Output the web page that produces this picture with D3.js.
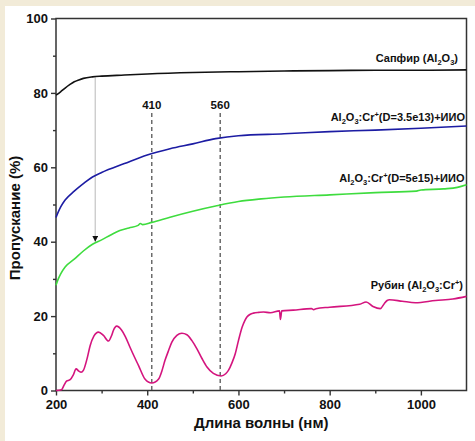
<!DOCTYPE html>
<html>
<head>
<meta charset="utf-8">
<script src="https://cdn.jsdelivr.net/npm/d3@7"></script>
<style>
  html, body { margin: 0; padding: 0; background: #f2ebd8; }
  svg { display: block; }
  text { font-family: "Liberation Sans", Arial, sans-serif; font-weight: bold; fill: #111; }
</style>
</head>
<body>
<div id="chart"></div>
<script>
// длина волны (нм) / пропускание (%)
const sapphire = [
  [200, 79.4], [210, 80.3], [220, 81.3], [230, 82.2], [240, 83.0], [250, 83.5],
  [260, 83.9], [280, 84.3], [300, 84.5], [350, 84.8], [400, 85.1], [500, 85.5],
  [600, 85.7], [700, 85.9], [800, 86.0], [900, 86.1], [1000, 86.1], [1100, 86.2]
];
const blue = [
  [200, 46.5], [205, 48.0], [210, 49.3], [220, 51.2], [240, 53.6], [260, 55.6],
  [280, 57.4], [300, 58.6], [350, 61.0], [400, 63.3], [450, 65.0], [500, 66.3],
  [550, 67.7], [600, 68.5], [700, 69.0], [800, 69.6], [900, 70.0], [1000, 70.5],
  [1100, 71.1]
];
const green = [
  [200, 28.3], [205, 30.0], [210, 31.3], [220, 33.2], [240, 35.3], [260, 37.5],
  [280, 39.3], [300, 40.5], [320, 41.8], [340, 43.0], [360, 43.7], [380, 44.4],
  [385, 44.9], [390, 44.6], [410, 45.2], [450, 46.6], [500, 48.2], [550, 49.6],
  [600, 50.8], [650, 51.5], [700, 52.0], [800, 52.6], [900, 53.2], [990, 53.6],
  [1000, 53.9], [1050, 54.2], [1080, 54.6], [1100, 55.3]
];
const ruby = [
  [200, 0], [212, 0.2], [218, 1.5], [223, 2.5], [231, 2.9], [238, 4.2], [244, 5.8],
  [250, 5.2], [255, 4.9], [260, 5.4], [268, 8.5], [275, 12.1], [283, 14.6],
  [293, 15.7], [304, 14.8], [315, 13.3], [322, 14.8], [326, 16.2], [333, 17.3],
  [344, 16.2], [352, 14.5], [362, 11.7], [372, 9.0], [381, 6.7], [395, 3.1],
  [410, 2.0], [425, 3.1], [432, 5.2], [439, 8.1], [447, 10.8], [454, 13.0],
  [465, 14.8], [476, 15.4], [487, 15.0], [498, 13.4], [509, 11.2], [520, 8.6],
  [531, 6.3], [545, 4.6], [562, 3.9], [572, 4.5], [578, 5.4], [586, 7.5],
  [593, 9.9], [600, 13.4], [608, 17.0], [614, 18.8], [619, 19.8], [626, 20.5],
  [633, 20.8], [645, 21.0], [655, 21.1], [670, 20.9], [690, 21.4], [692, 19.1],
  [695, 21.4], [720, 21.6], [760, 22.0], [765, 21.7], [770, 22.0], [800, 22.4],
  [866, 23.2], [880, 23.8], [895, 22.6], [911, 22.0], [920, 23.4], [926, 24.2],
  [931, 24.4], [959, 24.0], [988, 23.6], [1032, 24.2], [1070, 24.6], [1100, 25.3]
];
const markers = [410, 560];
const arrowNm = 286;
const xTicks = [200, 400, 600, 800, 1000];
const yTicks = [0, 20, 40, 60, 80, 100];

const labels = [
  { series: "sapphire", parts: [["Сапфир (Al"], ["2", "sub"], ["O"], ["3", "sub"], [")"]] },
  { series: "blue", parts: [["Al"], ["2", "sub"], ["O"], ["3", "sub"], [":Cr"], ["+", "sup"], ["(D=3.5e13)+ИИО"]] },
  { series: "green", parts: [["Al"], ["2", "sub"], ["O"], ["3", "sub"], [":Cr"], ["+", "sup"], ["(D=5e15)+ИИО"]] },
  { series: "ruby", parts: [["Рубин (Al"], ["2", "sub"], ["O"], ["3", "sub"], [":Cr"], ["+", "sup"], [")"]] }
];

const width = 475, height = 441;
const margin = { top: 18.5, right: 8.5, bottom: 50.5, left: 56 };
const innerW = width - margin.left - margin.right;
const innerH = height - margin.top - margin.bottom;

const svg = d3.select("#chart").append("svg")
  .attr("width", width)
  .attr("height", height);

// белая подложка, бежевая полоса слева и сверху
svg.append("rect").attr("x", 5).attr("y", 6)
  .attr("width", width - 5).attr("height", height - 6)
  .attr("fill", "#fff");

const g = svg.append("g")
  .attr("transform", `translate(${margin.left},${margin.top})`);

const x = d3.scaleLinear().domain([200, 1100]).range([0, innerW]);
const y = d3.scaleLinear().domain([0, 100]).range([innerH, 0]);

// оси: основные и промежуточные деления
const xAxis = d3.axisBottom(x).tickValues(xTicks).tickFormat(d3.format("d")).tickSize(5).tickPadding(4);
const xMinor = d3.axisBottom(x).tickValues(d3.range(300, 1100, 200)).tickSize(3).tickFormat("");
const yAxis = d3.axisLeft(y).tickValues(yTicks).tickSize(5).tickPadding(3);
const yMinor = d3.axisLeft(y).tickValues(d3.range(10, 100, 20)).tickSize(3).tickFormat("");

[
  [xAxis, `translate(0,${innerH})`],
  [xMinor, `translate(0,${innerH})`],
  [yAxis, null],
  [yMinor, null]
].forEach(([ax, tr]) => {
  const a = g.append("g").attr("transform", tr).call(ax);
  a.select(".domain").remove();
  a.selectAll("line").attr("stroke", "#333").attr("stroke-width", 1.4);
  a.selectAll("text").attr("font-size", "13px").attr("fill", "#111")
    .attr("font-family", "Liberation Sans, Arial, sans-serif").attr("font-weight", "bold");
});

// рамка
g.append("rect")
  .attr("width", innerW).attr("height", innerH)
  .attr("fill", "none").attr("stroke", "#333").attr("stroke-width", 1.5);

// пунктир на 410 и 560 нм
markers.forEach(m => {
  g.append("line")
    .attr("x1", x(m)).attr("x2", x(m))
    .attr("y1", y(74.6)).attr("y2", innerH)
    .attr("stroke", "#555").attr("stroke-width", 1.3)
    .attr("stroke-dasharray", "4,3");
  g.append("text")
    .attr("x", x(m)).attr("y", y(74.6) - 4)
    .attr("text-anchor", "middle")
    .attr("font-size", "11.5px")
    .text(m);
});

const line = d3.line().x(d => x(d[0])).y(d => y(d[1])).curve(d3.curveMonotoneX);

const series = {
  sapphire: { data: sapphire, color: "#111111", lx: 458, ly: 62 },
  blue: { data: blue, color: "#1c1ca3", lx: 465, ly: 120.5 },
  green: { data: green, color: "#3edc3e", lx: 464.5, ly: 181.5 },
  ruby: { data: ruby, color: "#d4147e", lx: 463, ly: 288.5 }
};

// серая стрелка от кривой сапфира к зелёной
const defs = svg.append("defs");
defs.append("marker")
  .attr("id", "head")
  .attr("viewBox", "0 0 10 10")
  .attr("refX", 10).attr("refY", 5)
  .attr("markerWidth", 6).attr("markerHeight", 6)
  .attr("markerUnits", "userSpaceOnUse")
  .attr("orient", "auto")
  .append("path").attr("d", "M0,0 L10,5 L0,10 Z").attr("fill", "#111");

g.append("line")
  .attr("x1", x(arrowNm)).attr("x2", x(arrowNm))
  .attr("y1", y(84.3)).attr("y2", y(40))
  .attr("stroke", "#c4c4c4").attr("stroke-width", 1.2)
  .attr("marker-end", "url(#head)");

Object.values(series).forEach(s => {
  g.append("path")
    .datum(s.data)
    .attr("d", line)
    .attr("fill", "none")
    .attr("stroke", s.color)
    .attr("stroke-width", 1.6);
});

// подписи кривых с индексами
labels.forEach(l => {
  const s = series[l.series];
  const t = svg.append("text")
    .attr("x", s.lx).attr("y", s.ly)
    .attr("text-anchor", "end")
    .attr("font-size", "11px");
  let shift = 0;
  l.parts.forEach(([str, kind]) => {
    const want = kind === "sub" ? 3 : kind === "sup" ? -4 : 0;
    t.append("tspan")
      .attr("dy", want - shift)
      .attr("font-size", kind ? "7.5px" : "11px")
      .text(str);
    shift = want;
  });
});

// подписи осей
svg.append("text")
  .attr("x", margin.left + innerW / 2).attr("y", 428)
  .attr("text-anchor", "middle")
  .attr("font-size", "15px")
  .text("Длина волны (нм)");

svg.append("text")
  .attr("transform", `translate(20,218) rotate(-90)`)
  .attr("text-anchor", "middle")
  .attr("font-size", "15px")
  .text("Пропускание (%)");
</script>
</body>
</html>
